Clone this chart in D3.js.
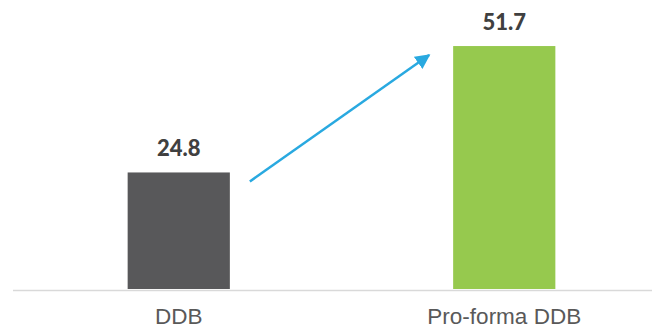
<!DOCTYPE html>
<html>
<head>
<meta charset="utf-8">
<script src="https://cdn.jsdelivr.net/npm/d3@7"></script>
<style>
  body { margin: 0; background: #fff; }
</style>
</head>
<body>
<div id="chart"></div>
<script>
const categories = ['DDB', 'Pro-forma DDB']
const values = [24.8, 51.7]
const barColors = ['#58585a', '#96c94e']

const width = 652, height = 329

const svg = d3.select('#chart').append('svg').attr('width', width).attr('height', height)

const x = d3.scaleBand().domain(categories).range([16, 667])
  .paddingInner(0.686).paddingOuter(0.343)
const y = d3.scaleLinear().domain([0, 61.5]).range([289, 0])

// baseline
svg.append('line')
  .attr('x1', 13).attr('x2', width).attr('y1', y(0) + 1.5).attr('y2', y(0) + 1.5)
  .attr('stroke', '#d9d9d9').attr('stroke-width', 1.5)

// bars
svg.selectAll('rect.bar').data(values).join('rect')
  .attr('class', 'bar')
  .attr('x', (d, i) => x(categories[i])).attr('width', x.bandwidth())
  .attr('y', d => y(d)).attr('height', d => y(0) - y(d))
  .attr('fill', (d, i) => barColors[i])

// value labels
svg.selectAll('text.val').data(values).join('text')
  .attr('class', 'val')
  .attr('x', (d, i) => x(categories[i]) + x.bandwidth() / 2)
  .attr('y', d => y(d) - 16)
  .attr('text-anchor', 'middle')
  .style('font-family', 'Lato, sans-serif').style('font-weight', 900)
  .style('font-size', '22px').attr('fill', '#404040')
  .text(d => d.toFixed(1))

// category labels
svg.selectAll('text.cat').data(categories).join('text')
  .attr('class', 'cat')
  .attr('x', c => x(c) + x.bandwidth() / 2)
  .attr('y', 324)
  .attr('text-anchor', 'middle')
  .style('font-family', '"Liberation Sans", Arial, sans-serif')
  .style('font-size', '22.5px').attr('fill', '#595959')
  .text(c => c)

// growth arrow
svg.append('defs').append('marker')
  .attr('id', 'arrowhead').attr('viewBox', '0 0 10 10')
  .attr('refX', 9).attr('refY', 5)
  .attr('markerWidth', 6).attr('markerHeight', 6)
  .attr('markerUnits', 'strokeWidth')
  .attr('orient', 'auto')
  .append('path').attr('d', 'M0,0 L10,5 L0,10 Z').attr('fill', '#29a9e0')

const x0 = x(categories[0]) + x.bandwidth() + 20, y0 = y(values[0]) + 9
const x1 = x(categories[1]) - 24, y1 = y(values[1]) + 9
svg.append('line')
  .attr('x1', x0).attr('y1', y0).attr('x2', x1).attr('y2', y1)
  .attr('stroke', '#29a9e0').attr('stroke-width', 2.5)
  .attr('marker-end', 'url(#arrowhead)')
</script>
</body>
</html>
